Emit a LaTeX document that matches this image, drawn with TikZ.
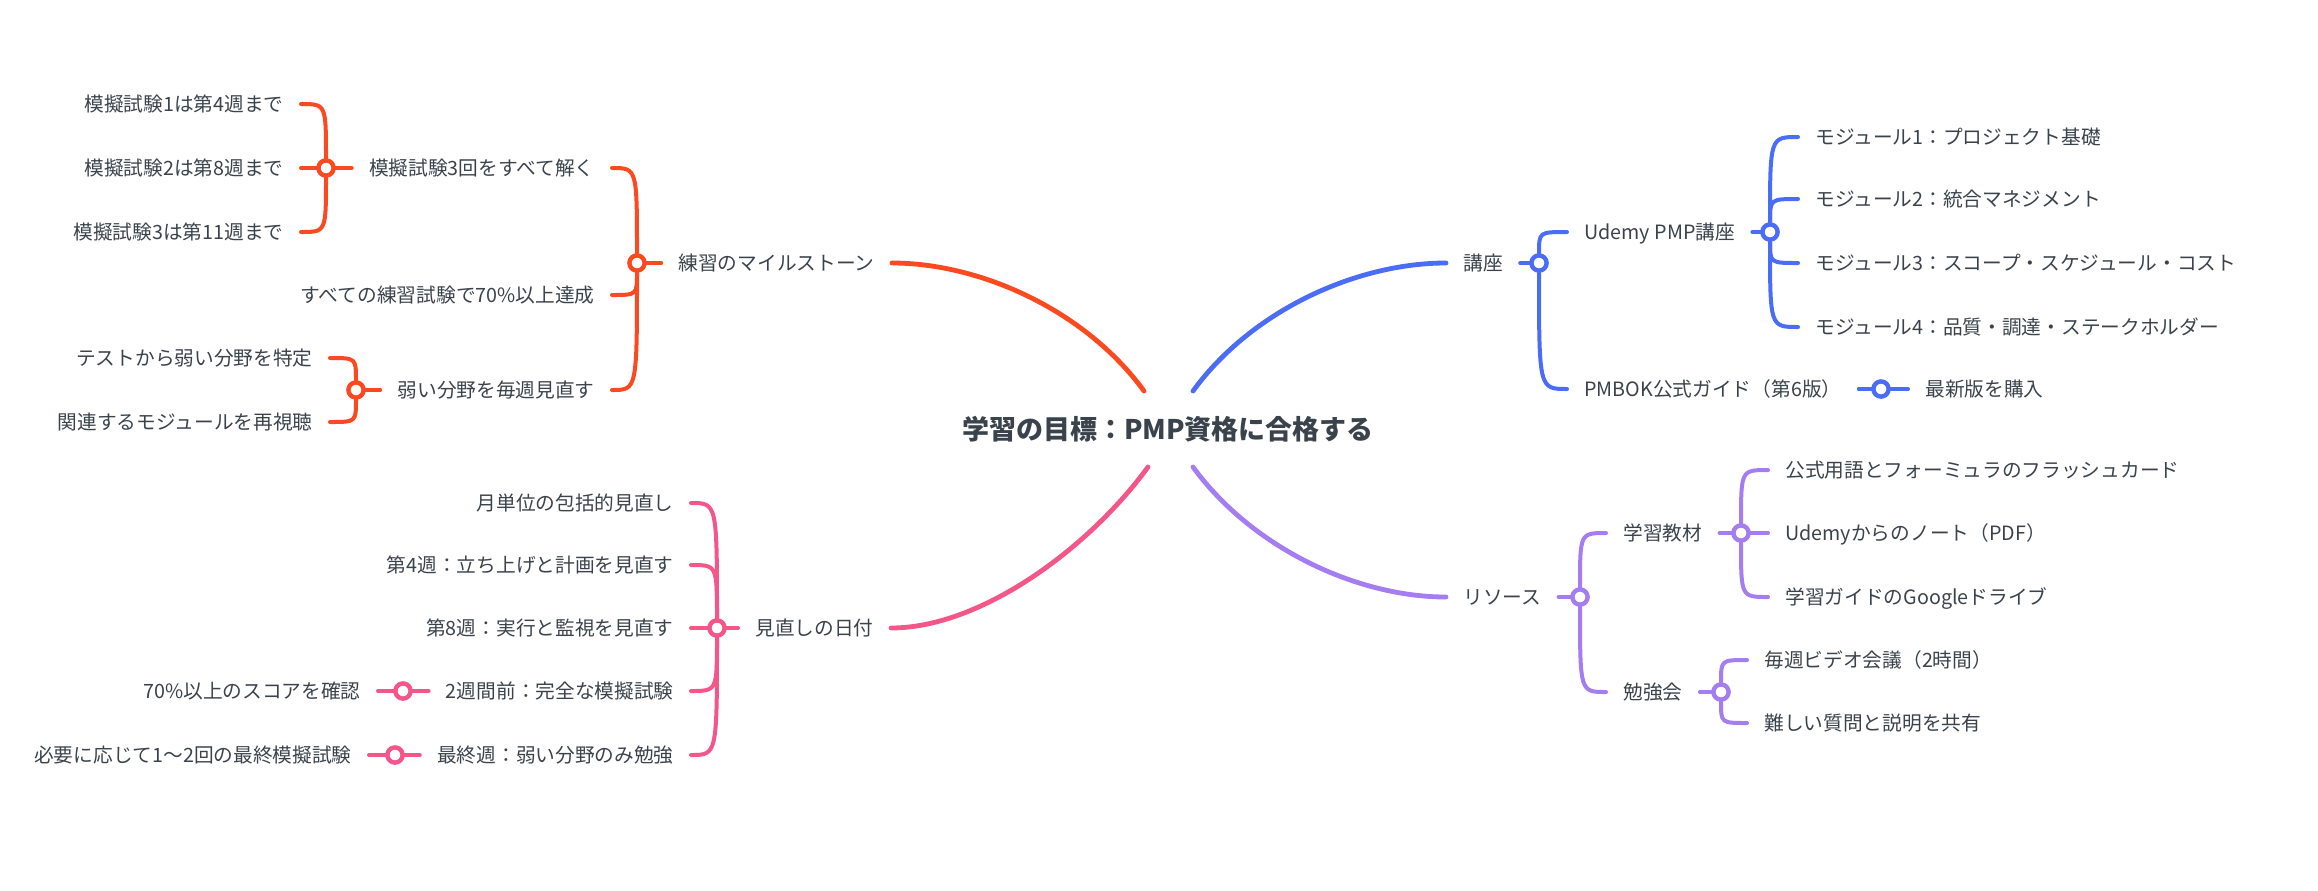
\documentclass[tikz,border=0pt]{standalone}
\usepackage{fontspec}
\setmainfont{Noto Sans CJK JP}
\usepackage{tikz}
\usetikzlibrary{positioning,calc}
\usepackage{xcolor}
\definecolor{txt}{HTML}{3A434C}
\definecolor{cRed}{HTML}{FB4A1F}
\definecolor{cBlue}{HTML}{4A6CF7}
\definecolor{cPink}{HTML}{F4568A}
\definecolor{cPurple}{HTML}{A47DF0}

\begin{document}
\begin{tikzpicture}[x=0.5pt, y=-0.5pt,
    topic/.style={text=txt, font=\fontsize{9.85pt}{12pt}\selectfont, inner xsep=8.5pt, inner ysep=1pt, text height=8.67pt, text depth=1.18pt},
    goal/.style={text=txt, font=\fontsize{13.5pt}{16pt}\selectfont\bfseries, inner sep=2pt, text height=11.88pt, text depth=1.62pt},
    trunk/.style={line width=2.4pt, line cap=round},
    twig/.style={line width=2pt, line cap=round},
    junc/.style={circle, draw=#1, line width=2.2pt, fill=white, minimum size=7.6pt, inner sep=0pt}]
    \useasboundingbox (0,0) rectangle (2318,890);

    % Goal in the middle
    \node[goal] (goal) at (1168,429) {学習の目標：PMP資格に合格する};
    \coordinate (goalNW) at ($(goal.center)+(-24,-38)$);
    \coordinate (goalNE) at ($(goal.center)+(25,-38)$);
    \coordinate (goalSW) at ($(goal.center)+(-20,38)$);
    \coordinate (goalSE) at ($(goal.center)+(25,38)$);

    % Practice milestones (left, top)
    \node[topic, anchor=east] (mile) at (892,263) {練習のマイルストーン};
    \node[junc=cRed] (jMile) at (637,263) {};
    \node[topic, anchor=east] (mockAll) at (612,168) {模擬試験3回をすべて解く};
    \node[topic, anchor=east] (pass) at (612,295) {すべての練習試験で70\%以上達成};
    \node[topic, anchor=east] (weak) at (612,390) {弱い分野を毎週見直す};
    \node[junc=cRed] (jMock) at (326,168) {};
    \node[topic, anchor=east] (mockA) at (301,104) {模擬試験1は第4週まで};
    \node[topic, anchor=east] (mockB) at (301,168) {模擬試験2は第8週まで};
    \node[topic, anchor=east] (mockC) at (301,232) {模擬試験3は第11週まで};
    \node[junc=cRed] (jWeak) at (356,390) {};
    \node[topic, anchor=east] (spot) at (330,358) {テストから弱い分野を特定};
    \node[topic, anchor=east] (rewatch) at (330,422) {関連するモジュールを再視聴};
    \draw[trunk, cRed] (goalNW) .. controls +(-59,-81) and +(88,0) .. (mile.east);
    \draw[twig, cRed] (mile.west) -- (jMile);
    \draw[twig, cRed] (jMile) .. controls (jMile |- mockAll.east) and (jMile |- mockAll.east) .. (mockAll.east);
    \draw[twig, cRed] (jMile) .. controls (jMile |- pass.east) and (jMile |- pass.east) .. (pass.east);
    \draw[twig, cRed] (jMile) .. controls (jMile |- weak.east) and (jMile |- weak.east) .. (weak.east);
    \draw[twig, cRed] (mockAll.west) -- (jMock);
    \draw[twig, cRed] (jMock) .. controls (jMock |- mockA.east) and (jMock |- mockA.east) .. (mockA.east);
    \draw[twig, cRed] (jMock) -- (mockB.east);
    \draw[twig, cRed] (jMock) .. controls (jMock |- mockC.east) and (jMock |- mockC.east) .. (mockC.east);
    \draw[twig, cRed] (weak.west) -- (jWeak);
    \draw[twig, cRed] (jWeak) .. controls (jWeak |- spot.east) and (jWeak |- spot.east) .. (spot.east);
    \draw[twig, cRed] (jWeak) .. controls (jWeak |- rewatch.east) and (jWeak |- rewatch.east) .. (rewatch.east);

    % Course (right, top)
    \node[topic, anchor=west] (course) at (1446,263) {講座};
    \node[junc=cBlue] (jCourse) at (1539,263) {};
    \node[topic, anchor=west] (udemy) at (1567,232) {Udemy PMP講座};
    \node[junc=cBlue] (jUdemy) at (1770,232) {};
    \node[topic, anchor=west] (modA) at (1798,137) {モジュール1：プロジェクト基礎};
    \node[topic, anchor=west] (modB) at (1798,199) {モジュール2：統合マネジメント};
    \node[topic, anchor=west] (modC) at (1798,263) {モジュール3：スコープ・スケジュール・コスト};
    \node[topic, anchor=west] (modD) at (1798,327) {モジュール4：品質・調達・ステークホルダー};
    \node[topic, anchor=west] (pmbok) at (1567,389) {PMBOK公式ガイド（第6版）};
    \node[junc=cBlue] (jPmbok) at (1881,389) {};
    \node[topic, anchor=west] (buy) at (1908,389) {最新版を購入};
    \draw[trunk, cBlue] (goalNE) .. controls +(59,-81) and +(-89,0) .. (course.west);
    \draw[twig, cBlue] (course.east) -- (jCourse);
    \draw[twig, cBlue] (jCourse) .. controls (jCourse |- udemy.west) and (jCourse |- udemy.west) .. (udemy.west);
    \draw[twig, cBlue] (jCourse) .. controls (jCourse |- pmbok.west) and (jCourse |- pmbok.west) .. (pmbok.west);
    \draw[twig, cBlue] (udemy.east) -- (jUdemy);
    \draw[twig, cBlue] (jUdemy) .. controls (jUdemy |- modA.west) and (jUdemy |- modA.west) .. (modA.west);
    \draw[twig, cBlue] (jUdemy) .. controls (jUdemy |- modB.west) and (jUdemy |- modB.west) .. (modB.west);
    \draw[twig, cBlue] (jUdemy) .. controls (jUdemy |- modC.west) and (jUdemy |- modC.west) .. (modC.west);
    \draw[twig, cBlue] (jUdemy) .. controls (jUdemy |- modD.west) and (jUdemy |- modD.west) .. (modD.west);
    \draw[twig, cBlue] (pmbok.east) -- (jPmbok);
    \draw[twig, cBlue] (jPmbok) -- (buy.west);

    % Resources (right, bottom)
    \node[topic, anchor=west] (res) at (1446,597) {リソース};
    \node[junc=cPurple] (jRes) at (1580,597) {};
    \node[topic, anchor=west] (mat) at (1606,533) {学習教材};
    \node[junc=cPurple] (jMat) at (1741,533) {};
    \node[topic, anchor=west] (flash) at (1768,470) {公式用語とフォーミュラのフラッシュカード};
    \node[topic, anchor=west] (notes) at (1768,533) {Udemyからのノート（PDF）};
    \node[topic, anchor=west] (drive) at (1768,597) {学習ガイドのGoogleドライブ};
    \node[topic, anchor=west] (group) at (1606,692) {勉強会};
    \node[junc=cPurple] (jGroup) at (1721,692) {};
    \node[topic, anchor=west] (video) at (1747,660) {毎週ビデオ会議（2時間）};
    \node[topic, anchor=west] (share) at (1747,723) {難しい質問と説明を共有};
    \draw[trunk, cPurple] (goalSE) .. controls +(59,81) and +(-89,0) .. (res.west);
    \draw[twig, cPurple] (res.east) -- (jRes);
    \draw[twig, cPurple] (jRes) .. controls (jRes |- mat.west) and (jRes |- mat.west) .. (mat.west);
    \draw[twig, cPurple] (jRes) .. controls (jRes |- group.west) and (jRes |- group.west) .. (group.west);
    \draw[twig, cPurple] (mat.east) -- (jMat);
    \draw[twig, cPurple] (jMat) .. controls (jMat |- flash.west) and (jMat |- flash.west) .. (flash.west);
    \draw[twig, cPurple] (jMat) -- (notes.west);
    \draw[twig, cPurple] (jMat) .. controls (jMat |- drive.west) and (jMat |- drive.west) .. (drive.west);
    \draw[twig, cPurple] (group.east) -- (jGroup);
    \draw[twig, cPurple] (jGroup) .. controls (jGroup |- video.west) and (jGroup |- video.west) .. (video.west);
    \draw[twig, cPurple] (jGroup) .. controls (jGroup |- share.west) and (jGroup |- share.west) .. (share.west);

    % Review dates (left, bottom)
    \node[topic, anchor=east] (review) at (891,628) {見直しの日付};
    \node[junc=cPink] (jReview) at (717,628) {};
    \node[topic, anchor=east] (monthly) at (691,503) {月単位の包括的見直し};
    \node[topic, anchor=east] (wkFour) at (691,565) {第4週：立ち上げと計画を見直す};
    \node[topic, anchor=east] (wkEight) at (691,628) {第8週：実行と監視を見直す};
    \node[topic, anchor=east] (full) at (691,691) {2週間前：完全な模擬試験};
    \node[junc=cPink] (jFull) at (403,691) {};
    \node[topic, anchor=east] (score) at (378,691) {70\%以上のスコアを確認};
    \node[topic, anchor=east] (last) at (691,755) {最終週：弱い分野のみ勉強};
    \node[junc=cPink] (jLast) at (395,755) {};
    \node[topic, anchor=east] (extra) at (369,755) {必要に応じて1〜2回の最終模擬試験};
    \draw[trunk, cPink] (goalSW) .. controls +(-59,81) and +(90,0) .. (review.east);
    \draw[twig, cPink] (review.west) -- (jReview);
    \draw[twig, cPink] (jReview) .. controls (jReview |- monthly.east) and (jReview |- monthly.east) .. (monthly.east);
    \draw[twig, cPink] (jReview) .. controls (jReview |- wkFour.east) and (jReview |- wkFour.east) .. (wkFour.east);
    \draw[twig, cPink] (jReview) -- (wkEight.east);
    \draw[twig, cPink] (jReview) .. controls (jReview |- full.east) and (jReview |- full.east) .. (full.east);
    \draw[twig, cPink] (jReview) .. controls (jReview |- last.east) and (jReview |- last.east) .. (last.east);
    \draw[twig, cPink] (full.west) -- (jFull);
    \draw[twig, cPink] (jFull) -- (score.east);
    \draw[twig, cPink] (last.west) -- (jLast);
    \draw[twig, cPink] (jLast) -- (extra.east);
\end{tikzpicture}
\end{document}
